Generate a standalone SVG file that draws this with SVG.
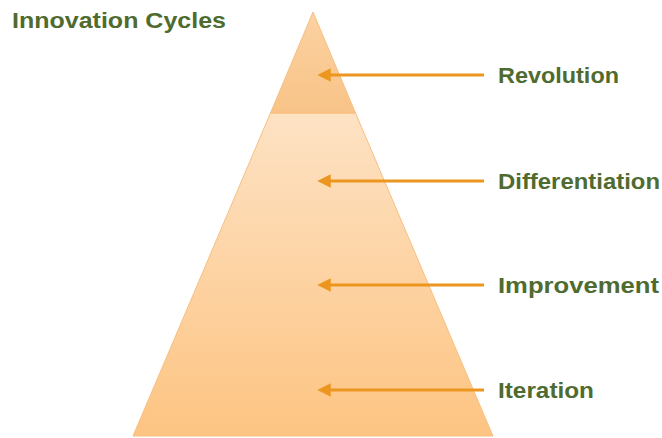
<svg xmlns="http://www.w3.org/2000/svg" width="662" height="438" viewBox="0 0 662 438">
<style>
.lbl{font-family:"Liberation Sans","Arial",sans-serif;font-weight:bold;font-size:22px;fill:#4f6b2f}
.arr{stroke:#ec961f;stroke-width:3;fill:none;marker-end:url(#ah)}
</style>
<defs>
<linearGradient id="gTop" x1="0" y1="0" x2="0" y2="1">
<stop offset="0" stop-color="#fbd2a2"/>
<stop offset="1" stop-color="#f8c387"/>
</linearGradient>
<linearGradient id="gBot" x1="0" y1="0" x2="0" y2="1">
<stop offset="0" stop-color="#fde2c4"/>
<stop offset="1" stop-color="#fdc482"/>
</linearGradient>
<marker id="ah" viewBox="0 0 10 10" refX="5" refY="5" markerWidth="4.5" markerHeight="4.5" orient="auto" markerUnits="strokeWidth">
<path d="M0,0 L10,5 L0,10 Z" fill="#ec961f"/>
</marker>
</defs>
<rect width="662" height="438" fill="#ffffff"/>
<text class="lbl" x="12" y="28" textLength="214" lengthAdjust="spacingAndGlyphs">Innovation Cycles</text>
<g id="pyramid-bottom">
<polygon points="270.5,113 355.5,113 493,436 133,436" fill="url(#gBot)" stroke="#f7bf80" stroke-width="1"/>
</g>
<g id="pyramid-top">
<polygon points="313,12 355.5,113 270.5,113" fill="url(#gTop)" stroke="#f7bf80" stroke-width="1"/>
</g>
<g id="connectors">
<line class="arr" x1="484" y1="75" x2="324" y2="75"/>
<line class="arr" x1="484" y1="181" x2="324" y2="181"/>
<line class="arr" x1="484" y1="285" x2="324" y2="285"/>
<line class="arr" x1="484" y1="390" x2="324" y2="390"/>
</g>
<g id="revolution"><text class="lbl" x="498" y="83" textLength="121" lengthAdjust="spacingAndGlyphs">Revolution</text></g>
<g id="differentiation"><text class="lbl" x="498" y="189" textLength="162" lengthAdjust="spacingAndGlyphs">Differentiation</text></g>
<g id="improvement"><text class="lbl" x="498" y="293" textLength="161" lengthAdjust="spacingAndGlyphs">Improvement</text></g>
<g id="iteration"><text class="lbl" x="498" y="398" textLength="96" lengthAdjust="spacingAndGlyphs">Iteration</text></g>
</svg>
